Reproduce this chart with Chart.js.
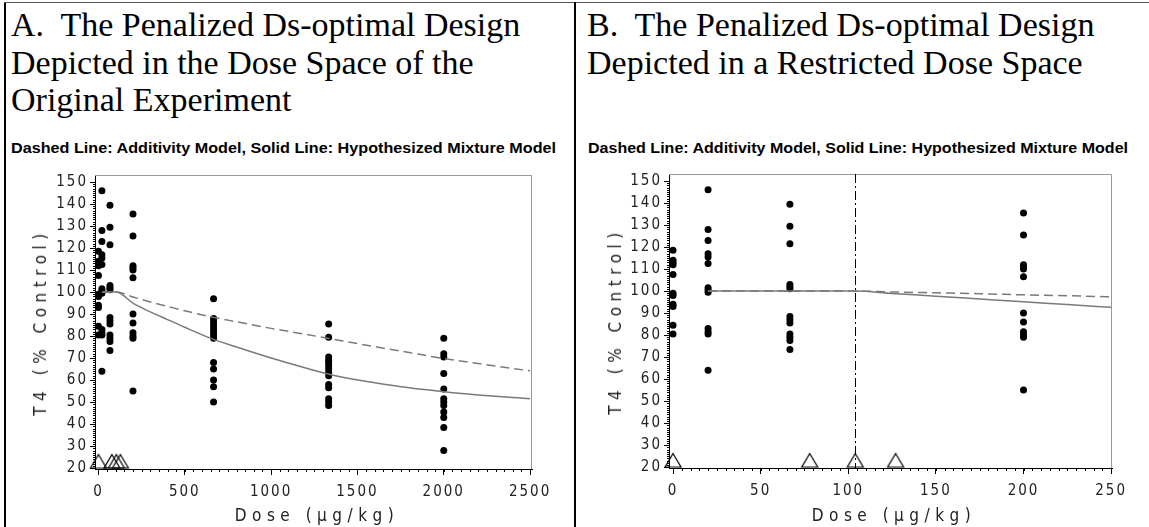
<!DOCTYPE html>
<html>
<head>
<meta charset="utf-8">
<script src="https://cdn.jsdelivr.net/npm/chart.js@4.4.0/dist/chart.umd.min.js"></script>
<style>
  body { margin: 0; background: #fff; }
  #page { position: relative; width: 1149px; height: 527px; overflow: hidden; background: #fff; }
  .rule { position: absolute; background: #000; }
  .title { position: absolute; font-family: "Liberation Serif", "Times New Roman", serif; font-size: 34px; line-height: 37.5px; color: #000; white-space: nowrap; }
  .sub { position: absolute; font-family: "Liberation Sans", Arial, sans-serif; font-weight: bold; font-size: 15px; color: #000; white-space: nowrap; transform-origin: 0 50%; }
  .axt { position: absolute; font-family: "Liberation Sans Narrow", "DejaVu Sans Condensed", "Liberation Sans", sans-serif; font-size: 17px; letter-spacing: 5.5px; color: #222; white-space: nowrap; }
  .ylab { transform: translate(-50%, -50%) rotate(-90deg); }
  .xlab { transform: translate(-50%, -50%); }
  .box { position: absolute; top: 160px; height: 367px; }
</style>
</head>
<body>
<div id="page">
  <div class="rule" style="left:4px;top:2px;width:2px;height:525px"></div>
  <div class="rule" style="left:4px;top:2px;width:1145px;height:1px;background:#555"></div>
  <div class="rule" style="left:574px;top:2px;width:2px;height:525px"></div>

  <div class="title" style="left:11px;top:6px">A.&nbsp; The Penalized Ds-optimal Design<br>Depicted in the Dose Space of the<br>Original Experiment</div>
  <div class="title" style="left:587px;top:6px">B.&nbsp; The Penalized Ds-optimal Design<br>Depicted in a Restricted Dose Space</div>
  <div class="sub" data-w="545" style="left:11px;top:139px">Dashed Line: Additivity Model, Solid Line: Hypothesized Mixture Model</div>
  <div class="sub" data-w="540" style="left:588px;top:139px">Dashed Line: Additivity Model, Solid Line: Hypothesized Mixture Model</div>

  <div class="box" style="left:0;width:575px"><canvas id="chartA"></canvas></div>
  <div class="box" style="left:575px;width:574px"><canvas id="chartB"></canvas></div>

  <div class="axt ylab" style="left:40px;top:322px">T4 (% Control)</div>
  <div class="axt ylab" style="left:615px;top:321px">T4 (% Control)</div>
  <div class="axt xlab" style="left:317px;top:515px">Dose (μg/kg)</div>
  <div class="axt xlab" style="left:894px;top:515px">Dose (μg/kg)</div>
</div>

<script>
// observed T4 responses, one list per dose group (μg/kg)
var t4At0 = [118.5, 114, 113, 112, 107.5, 99, 98, 94, 93, 84.5, 80.5];
var t4At20 = [146, 128, 123, 117, 115.5, 112.5, 101.5, 100.5, 99.5, 83, 81.5, 80.5, 64];
var t4At67 = [139.5, 129.5, 121.5, 103, 102, 101, 88.5, 87, 85.5, 80.5, 79, 77.5, 73.5];
var t4At200 = [135.5, 125.5, 112, 111, 110, 106.5, 90, 86, 81.5, 80, 79, 55];
var t4At667 = [97, 88, 86.5, 85, 83.5, 82, 80.5, 79, 68, 65, 60, 57, 50];
var t4At1333 = [85.5, 79.5, 70.5, 69, 68, 66.5, 65, 63.5, 62, 58, 56.5, 51.5, 50, 48.5];
var t4At2000 = [79, 72, 70.5, 63, 56, 51.5, 50, 48.5, 45.5, 43, 38.5, 28];

// design support points (triangles on the floor of the plot)
var designDoses = [0, 78, 104, 127];
var thresholdDose = 104;

// fitted model curves, full dose range
var fitDoseA = [20, 104, 200, 300, 400, 500, 667, 800, 1000, 1200, 1400, 1600, 1800, 2000, 2200, 2500];
var mixtureA = [100, 100, 95, 91, 87.5, 84, 78.5, 75, 70, 65.5, 61.5, 58.8, 56.5, 54.7, 53.2, 51.5];
var additivityA = [100, 100, 97.8, 95.5, 93.5, 91.5, 88.5, 86.5, 83.5, 80.8, 78, 75.2, 72.5, 69.8, 67.5, 64.2];

// fitted model curves, restricted range
var fitDoseB = [20, 104, 125, 150, 175, 200, 225, 250];
var mixtureB = [100, 100, 98.9, 97.7, 96.4, 95.1, 93.9, 92.6];
var additivityB = [100, 100, 99.6, 99.2, 98.8, 98.3, 97.9, 97.4];

var yTicks = [20, 30, 40, 50, 60, 70, 80, 90, 100, 110, 120, 130, 140, 150];
var xTicksA = [0, 500, 1000, 1500, 2000, 2500];
var xTicksB = [0, 50, 100, 150, 200, 250];

var groups = [
  [0, t4At0], [20, t4At20], [66.7, t4At67], [200, t4At200],
  [666.7, t4At667], [1333.3, t4At1333], [2000, t4At2000]
];

function obsPoints(maxDose) {
  var pts = [];
  groups.forEach(function (g) {
    if (g[0] > maxDose) return;
    g[1].forEach(function (v) { pts.push({ x: g[0], y: v }); });
  });
  return pts;
}

function curve(xs, ys) {
  return xs.map(function (x, i) { return { x: x, y: ys[i] }; });
}

// open triangle whose base sits on the point's y position
function triangleMark() {
  var c = document.createElement('canvas');
  c.width = 20; c.height = 30;
  var g = c.getContext('2d');
  g.strokeStyle = '#000';
  g.lineWidth = 1.2;
  g.beginPath();
  g.moveTo(10, 1.5);
  g.lineTo(18, 15);
  g.lineTo(2, 15);
  g.closePath();
  g.stroke();
  return c;
}

var tickFont = { family: '"Liberation Sans Narrow", "DejaVu Sans Condensed", "Liberation Sans", sans-serif', size: 15 };

// frame, minor ticks and the threshold line
var decor = {
  id: 'decor',
  beforeDraw: function (chart) { chart.ctx.letterSpacing = '2px'; },
  afterDraw: function (chart, args, opts) {
    var ctx = chart.ctx, a = chart.chartArea;
    var xs = chart.scales.x, ys = chart.scales.y;
    ctx.save();
    ctx.letterSpacing = '0px';
    ctx.strokeStyle = '#999';
    ctx.lineWidth = 1;
    ctx.beginPath();
    ctx.moveTo(a.left, a.top + 0.5); ctx.lineTo(a.right - 0.5, a.top + 0.5); ctx.lineTo(a.right - 0.5, a.bottom);
    ctx.stroke();

    ctx.strokeStyle = '#000';
    ctx.beginPath();
    for (var v = 0; v <= xs.max; v += opts.xMinor) {
      var px = Math.round(xs.getPixelForValue(v)) + 0.5;
      ctx.moveTo(px, a.bottom); ctx.lineTo(px, a.bottom + 3);
    }
    for (var w = 20; w <= 150; w += 1) {
      var py = Math.round(ys.getPixelForValue(w)) + 0.5;
      ctx.moveTo(a.left, py); ctx.lineTo(a.left - 2, py);
    }
    ctx.stroke();

    if (opts.threshold != null) {
      var tx = Math.round(xs.getPixelForValue(opts.threshold)) + 0.5;
      ctx.setLineDash([9, 3, 2, 3]);
      ctx.beginPath();
      ctx.moveTo(tx, a.top); ctx.lineTo(tx, a.bottom);
      ctx.stroke();
    }
    ctx.restore();
  }
};

function makeChart(id, cfg) {
  var tri = triangleMark();
  return new Chart(document.getElementById(id), {
    type: 'scatter',
    data: {
      datasets: [
        {
          label: 'Additivity Model', type: 'line', data: curve(cfg.fitX, cfg.additivity),
          borderColor: '#7a7a7a', borderWidth: 1.5, borderDash: [9, 5], pointRadius: 0,
          cubicInterpolationMode: 'monotone', fill: false
        },
        {
          label: 'Hypothesized Mixture Model', type: 'line', data: curve(cfg.fitX, cfg.mixture),
          borderColor: '#7a7a7a', borderWidth: 1.5, pointRadius: 0,
          cubicInterpolationMode: 'monotone', fill: false
        },
        {
          label: 'Observed', data: obsPoints(cfg.max), pointRadius: 3.5,
          pointBackgroundColor: '#000', pointBorderColor: '#000', pointBorderWidth: 0, clip: false
        },
        {
          label: 'Design', data: designDoses.map(function (d) { return { x: d, y: 20 }; }),
          pointStyle: tri, clip: false
        }
      ]
    },
    options: {
      responsive: true,
      maintainAspectRatio: false,
      animation: false,
      events: [],
      layout: { padding: { top: cfg.padTop, right: cfg.padRight, left: 0, bottom: 0 } },
      plugins: {
        legend: { display: false },
        tooltip: { enabled: false },
        decor: { xMinor: cfg.xMinor, threshold: cfg.threshold }
      },
      scales: {
        x: {
          type: 'linear', min: cfg.min, max: cfg.max,
          border: { color: '#000', width: 1 },
          grid: { drawOnChartArea: false, drawTicks: true, tickLength: 6, color: '#000' },
          ticks: {
            font: tickFont, color: '#222', padding: 8, maxRotation: 0,
            callback: function (v) { return String(v); }
          },
          afterBuildTicks: function (s) { s.ticks = cfg.xTicks.map(function (v) { return { value: v }; }); },
          afterFit: function (s) { s.height = cfg.xHeight; }
        },
        y: {
          type: 'linear', min: 19.6, max: 153.2,
          border: { color: '#000', width: 1 },
          grid: { drawOnChartArea: false, drawTicks: true, tickLength: 5, color: '#000' },
          ticks: { font: tickFont, color: '#222', padding: 2 },
          afterBuildTicks: function (s) { s.ticks = yTicks.map(function (v) { return { value: v }; }); },
          afterFit: function (s) { s.width = cfg.yWidth; }
        }
      }
    },
    plugins: [decor]
  });
}

makeChart('chartA', {
  min: -20, max: 2511, xTicks: xTicksA, xMinor: 50,
  fitX: fitDoseA, mixture: mixtureA, additivity: additivityA,
  padTop: 15, padRight: 43, yWidth: 95, xHeight: 58, threshold: null
});

makeChart('chartB', {
  min: -2.3, max: 250.5, xTicks: xTicksB, xMinor: 5,
  fitX: fitDoseB, mixture: mixtureB, additivity: additivityB,
  padTop: 14, padRight: 37, yWidth: 94, xHeight: 59, threshold: thresholdDose
});

// squeeze the bold caption lines to their printed width
document.querySelectorAll('.sub').forEach(function (el) {
  var w = el.getBoundingClientRect().width;
  el.style.transform = 'scaleX(' + (el.dataset.w / w) + ')';
});
</script>
</body>
</html>
